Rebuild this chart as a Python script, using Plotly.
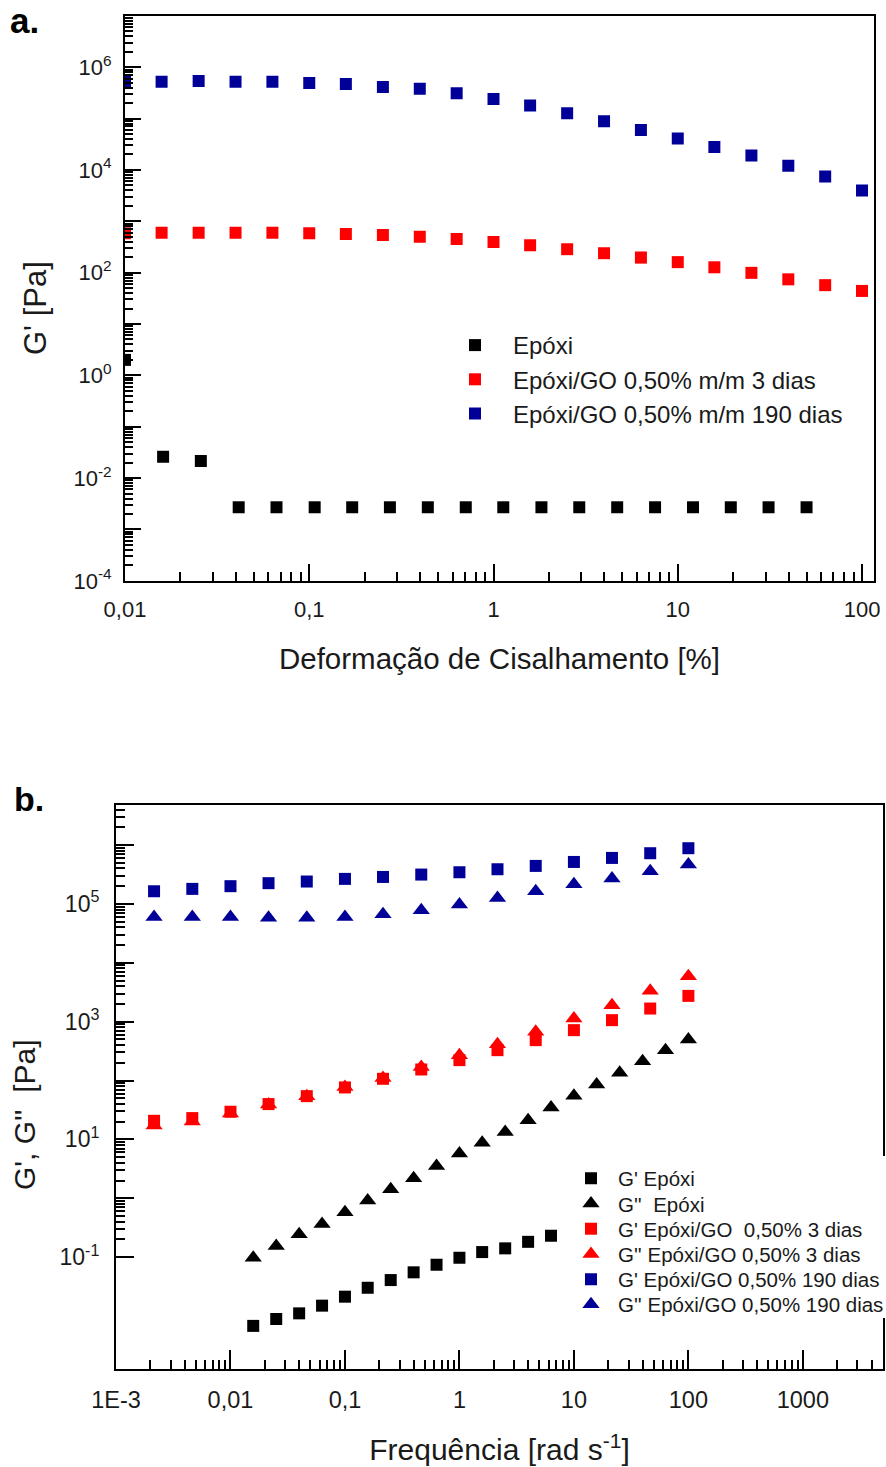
import plotly.graph_objects as go

# ---------------- Panel a: amplitude sweep ----------------
strain_go = [0.01, 0.0158, 0.0251, 0.0398, 0.0631, 0.1, 0.158, 0.251, 0.398, 0.631,
             1, 1.58, 2.51, 3.98, 6.31, 10, 15.8, 25.1, 39.8, 63.1, 100]
strain_epoxi = [0.01, 0.0161, 0.0258, 0.0414, 0.0664, 0.107, 0.171, 0.274, 0.440, 0.707,
                1.13, 1.82, 2.92, 4.69, 7.53, 12.1, 19.4, 31.1, 50.0]
gp_a_epoxi = [2.0, 0.026, 0.0215, 0.0027, 0.0027, 0.0027, 0.0027, 0.0027, 0.0027, 0.0027,
              0.0027, 0.0027, 0.0027, 0.0027, 0.0027, 0.0027, 0.0027, 0.0027, 0.0027]
gp_a_3d = [585, 600, 600, 600, 600, 585, 567, 542, 502, 453, 396, 342, 286, 239, 196,
           160, 127, 99, 74, 57, 44]
gp_a_190d = [5.2e5, 5.2e5, 5.4e5, 5.2e5, 5.2e5, 4.9e5, 4.7e5, 4.1e5, 3.8e5, 3.1e5, 2.4e5,
             1.8e5, 1.27e5, 8.9e4, 6.0e4, 4.1e4, 2.8e4, 1.9e4, 1.2e4, 7.4e3, 3.95e3]
names_a = ["Epóxi", "Epóxi/GO 0,50% m/m 3 dias", "Epóxi/GO 0,50% m/m 190 dias"]
xtitle_a = "Deformação de Cisalhamento [%]"
ytitle_a = "G' [Pa]"
xtick_a_vals = [0.01, 0.1, 1, 10, 100]
xtick_a_text = ["0,01", "0,1", "1", "10", "100"]
ytick_a_vals = [1e-4, 1e-3, 1e-2, 1e-1, 1e0, 1e1, 1e2, 1e3, 1e4, 1e5, 1e6, 1e7]
ytick_a_text = ["10<sup>-4</sup>", "", "10<sup>-2</sup>", "", "10<sup>0</sup>", "",
                "10<sup>2</sup>", "", "10<sup>4</sup>", "", "10<sup>6</sup>", ""]

# ---------------- Panel b: frequency sweep ----------------
freq_go = [0.00215, 0.00464, 0.01, 0.0215, 0.0464, 0.1, 0.215, 0.464, 1, 2.15, 4.64,
           10, 21.5, 46.4, 100]
freq_epoxi_gp = [0.0158, 0.0251, 0.0398, 0.0631, 0.1, 0.158, 0.251, 0.398, 0.631, 1,
                 1.58, 2.51, 3.98, 6.31]
freq_epoxi_gpp = [0.0158, 0.0251, 0.0398, 0.0631, 0.1, 0.158, 0.251, 0.398, 0.631, 1,
                  1.58, 2.51, 3.98, 6.31, 10, 15.8, 25.1, 39.8, 63.1, 100]
gp_epoxi = [0.0068, 0.0089, 0.0111, 0.0150, 0.0213, 0.0302, 0.0408, 0.0552, 0.0743,
            0.0977, 0.122, 0.141, 0.182, 0.231]
gpp_epoxi = [0.098, 0.154, 0.244, 0.365, 0.577, 0.92, 1.42, 2.18, 3.52, 5.78, 8.75,
             13.4, 21.2, 34.9, 55.0, 85.8, 135, 213, 328, 499]
gp_3d = [20.7, 23.0, 29.5, 39.8, 54.3, 76.3, 107, 154, 222, 328, 485, 717, 1060, 1670, 2740]
gpp_3d = [17.3, 20.2, 27.6, 39, 54.3, 77.3, 110, 169, 270, 415, 671, 1133, 1905, 3334, 5920]
gp_190d = [1.64e5, 1.80e5, 2.00e5, 2.25e5, 2.40e5, 2.66e5, 2.87e5, 3.15e5, 3.45e5, 3.88e5,
           4.42e5, 5.16e5, 6.04e5, 7.26e5, 8.83e5]
gpp_190d = [6.0e4, 6.0e4, 6.0e4, 5.8e4, 5.8e4, 6.0e4, 6.7e4, 7.8e4, 9.8e4, 1.26e5, 1.64e5,
            2.16e5, 2.70e5, 3.59e5, 4.67e5]
names_b = ["G' Epóxi", "G''\u00a0 Epóxi", "G' Epóxi/GO\u00a0 0,50% 3 dias",
           "G'' Epóxi/GO 0,50% 3 dias", "G' Epóxi/GO 0,50% 190 dias",
           "G'' Epóxi/GO 0,50% 190 dias"]
xtitle_b = "Frequência [rad s<sup>-1</sup>]"
ytitle_b = "G', G''\u00a0 [Pa]"
xtick_b_vals = [1e-3, 1e-2, 1e-1, 1, 10, 100, 1000]
xtick_b_text = ["1E-3", "0,01", "0,1", "1", "10", "100", "1000"]
ytick_b_vals = [1e-1, 1e0, 1e1, 1e2, 1e3, 1e4, 1e5, 1e6]
ytick_b_text = ["10<sup>-1</sup>", "", "10<sup>1</sup>", "", "10<sup>3</sup>", "",
                "10<sup>5</sup>", ""]

BLACK = "#000000"
RED = "#ff0000"
BLUE = "#000099"
TXT = "#1a1a1a"
FONT = "Liberation Sans, Arial, sans-serif"
W, H = 886, 1467


def minor_vals(lo, hi):
    return [m * 10 ** e for e in range(lo, hi) for m in range(2, 10)]


fig = go.Figure()

# panel a traces (one shared legend)
for xs, ys, col, nm in [(strain_epoxi, gp_a_epoxi, BLACK, names_a[0]),
                        (strain_go, gp_a_3d, RED, names_a[1]),
                        (strain_go, gp_a_190d, BLUE, names_a[2])]:
    fig.add_trace(go.Scatter(x=xs, y=ys, mode="markers", name=nm,
                             marker=dict(symbol="square", size=12, color=col),
                             xaxis="x", yaxis="y", legend="legend"))

# panel b traces (legend rows placed individually for tight row spacing)
b_series = [(freq_epoxi_gp, gp_epoxi, BLACK, "square"),
            (freq_epoxi_gpp, gpp_epoxi, BLACK, "triangle-up"),
            (freq_go, gp_3d, RED, "square"),
            (freq_go, gpp_3d, RED, "triangle-up"),
            (freq_go, gp_190d, BLUE, "square"),
            (freq_go, gpp_190d, BLUE, "triangle-up")]
for i, (xs, ys, col, sym) in enumerate(b_series):
    fig.add_trace(go.Scatter(x=xs, y=ys, mode="markers", name=names_b[i],
                             marker=dict(symbol=sym, size=12 if sym == "square" else 15,
                                         color=col),
                             xaxis="x2", yaxis="y2", legend=f"legend{i + 2}"))

axis_common = dict(type="log", showgrid=False, zeroline=False, showline=True,
                   linecolor="black", linewidth=2, mirror=True, ticks="inside",
                   tickcolor="black", tickwidth=1.5, tickmode="array")
title_font = dict(family=FONT, size=30, color=TXT)

layout = dict(
    width=W, height=H,
    margin=dict(l=0, r=0, t=0, b=0, autoexpand=False),
    paper_bgcolor="white", plot_bgcolor="white",
    font=dict(family=FONT, color=TXT),
    showlegend=True,
    xaxis=dict(axis_common, domain=[125 / W, 874 / W], range=[-2, 2.065],
               anchor="y", tickvals=xtick_a_vals, ticktext=xtick_a_text, ticklen=17,
               ticklabelstandoff=8, tickfont=dict(family=FONT, size=22, color=TXT),
               minor=dict(tickmode="array", tickvals=minor_vals(-2, 2), ticks="inside",
                          ticklen=9, tickcolor="black", tickwidth=1.5),
               title=dict(text=xtitle_a, standoff=27,
                          font=dict(family=FONT, size=29.5, color=TXT))),
    yaxis=dict(axis_common, domain=[1 - 580.8 / H, 1 - 15.8 / H], range=[-4, 7],
               anchor="x", tickvals=ytick_a_vals, ticktext=ytick_a_text, ticklen=16,
               ticklabelstandoff=7, tickfont=dict(family=FONT, size=22, color=TXT),
               minor=dict(tickmode="array", tickvals=minor_vals(-4, 7), ticks="inside",
                          ticklen=8, tickcolor="black", tickwidth=1.5)),
    xaxis2=dict(axis_common, domain=[116 / W, 883 / W], range=[-3, 3.7],
                anchor="y2", tickvals=xtick_b_vals, ticktext=xtick_b_text, ticklen=19,
                ticklabelstandoff=9, tickfont=dict(family=FONT, size=23.5, color=TXT),
                minor=dict(tickmode="array", tickvals=minor_vals(-3, 4), ticks="inside",
                           ticklen=9, tickcolor="black", tickwidth=1.5),
                title=dict(text=xtitle_b, standoff=27, font=title_font)),
    yaxis2=dict(axis_common, domain=[1 - 1369 / H, 1 - 805 / H], range=[-2.9, 6.68],
                anchor="x2", tickvals=ytick_b_vals, ticktext=ytick_b_text, ticklen=18,
                ticklabelstandoff=10, tickfont=dict(family=FONT, size=23, color=TXT),
                minor=dict(tickmode="array", tickvals=minor_vals(-1, 7), ticks="inside",
                           ticklen=9, tickcolor="black", tickwidth=1.5)),
    legend=dict(x=437 / W, y=1 - 323 / H, xanchor="left", yanchor="top",
                bgcolor="rgba(255,255,255,0)", borderwidth=0, itemwidth=66,
                font=dict(family=FONT, size=24, color=TXT)),
)
for i in range(6):
    layout[f"legend{i + 2}"] = dict(x=564 / W, y=1 - (1158.5 + 25.2 * i) / H,
                                    xanchor="left", yanchor="top",
                                    bgcolor="rgba(255,255,255,0)",
                                    borderwidth=0, itemwidth=44,
                                    font=dict(family=FONT, size=20.5, color=TXT))
fig.update_layout(**layout)

# white backing behind the panel-b legend (hides the frame where the legend text runs over it)
fig.add_shape(type="rect", xref="paper", yref="paper", x0=574 / W, x1=1,
              y0=1 - 1318 / H, y1=1 - 1156 / H, fillcolor="white", line_width=0,
              layer="above")

# y-axis titles (placed off-centre along the axis, as in the original figure)
fig.add_annotation(text=ytitle_a, x=36 / W, y=1 - 308 / H, xref="paper", yref="paper",
                   xanchor="center", yanchor="middle", textangle=-90, showarrow=False,
                   font=dict(family=FONT, size=31, color=TXT))
fig.add_annotation(text=ytitle_b, x=24 / W, y=1 - 1115 / H, xref="paper", yref="paper",
                   xanchor="center", yanchor="middle", textangle=-90, showarrow=False,
                   font=dict(family=FONT, size=30, color=TXT))

fig.add_annotation(text="<b>a.</b>", x=8 / W, y=1 - 21 / H, xref="paper", yref="paper",
                   xanchor="left", yanchor="middle", showarrow=False,
                   font=dict(family=FONT, size=35, color="black"))
fig.add_annotation(text="<b>b.</b>", x=12 / W, y=1 - 799 / H, xref="paper", yref="paper",
                   xanchor="left", yanchor="middle", showarrow=False,
                   font=dict(family=FONT, size=34, color="black"))

fig.write_html("out.html", config={"displayModeBar": False},
               post_script="document.body.style.margin='0px';"
                           "document.body.style.padding='0px';")
